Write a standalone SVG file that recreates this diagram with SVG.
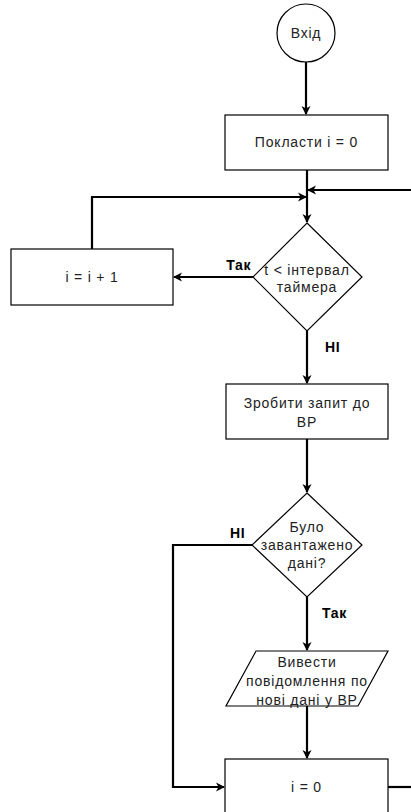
<svg xmlns="http://www.w3.org/2000/svg" width="411" height="812" viewBox="0 0 411 812">
<style>
.shape{fill:#fff;stroke:#000;stroke-width:1.2}
.t{font-family:"Liberation Sans",Arial,sans-serif;font-size:14px;fill:#222;text-anchor:middle;letter-spacing:0.8px}
.lbl{font-family:"Liberation Sans",Arial,sans-serif;font-size:14px;font-weight:bold;fill:#000;letter-spacing:0.6px}
.c{fill:none;stroke:#000;stroke-width:2.2}
</style>
<defs>
<marker id="arr" markerWidth="10" markerHeight="10" refX="8" refY="5" orient="auto" markerUnits="userSpaceOnUse">
<path d="M0,0.5 L9,5 L0,9.5 L2.5,5 z" fill="#000"/>
</marker>
</defs>
<rect width="411" height="812" fill="#fff"/>
<g id="connectors">
<path class="c" d="M306,62 V114" marker-end="url(#arr)"/>
<path class="c" d="M307,170 V222" marker-end="url(#arr)"/>
<path class="c" d="M411,190 H308" marker-end="url(#arr)"/>
<path class="c" d="M92,249 V197 H306" marker-end="url(#arr)"/>
<path class="c" d="M253,277 H174" marker-end="url(#arr)"/>
<path class="c" d="M307,331 V383" marker-end="url(#arr)"/>
<path class="c" d="M307,439 V492" marker-end="url(#arr)"/>
<path class="c" d="M252,545 H173 V787 H224" marker-end="url(#arr)"/>
<path class="c" d="M307,597 V650" marker-end="url(#arr)"/>
<path class="c" d="M307,706 V758" marker-end="url(#arr)"/>
<path class="c" d="M388,787 H411"/>
</g>
<g id="start">
<circle class="shape" cx="306" cy="33" r="29"/>
<text class="t" x="306" y="38">Вхід</text>
</g>
<g id="init">
<rect class="shape" x="225" y="115" width="163" height="55"/>
<text class="t" x="306.5" y="147">Покласти і = 0</text>
</g>
<g id="inc">
<rect class="shape" x="11" y="249" width="162" height="56"/>
<text class="t" x="92" y="282">i = i + 1</text>
</g>
<g id="cond1">
<polygon class="shape" points="307,223 362,277 307,331 253,277"/>
<text class="t" x="307" y="275">t &lt; інтервал</text>
<text class="t" x="307" y="292">таймера</text>
</g>
<g id="request">
<rect class="shape" x="226" y="384" width="162" height="55"/>
<text class="t" x="307" y="408">Зробити запит до</text>
<text class="t" x="307" y="427">ВР</text>
</g>
<g id="cond2">
<polygon class="shape" points="307,493 362,545 307,597 252,545"/>
<text class="t" x="307" y="532">Було</text>
<text class="t" x="307" y="550">завантажено</text>
<text class="t" x="307" y="568">дані?</text>
</g>
<g id="output">
<polygon class="shape" points="256,651 388,651 358,706 226,706"/>
<text class="t" x="307" y="667">Вивести</text>
<text class="t" x="307" y="686">повідомлення по</text>
<text class="t" x="307" y="705">нові дані у ВР</text>
</g>
<g id="reset">
<rect class="shape" x="225" y="759" width="163" height="58"/>
<text class="t" x="306.5" y="792">i = 0</text>
</g>
<g id="labels">
<text class="lbl" x="251" y="270" text-anchor="end">Так</text>
<text class="lbl" x="325" y="352">НІ</text>
<text class="lbl" x="230" y="538">НІ</text>
<text class="lbl" x="322" y="618">Так</text>
</g>
</svg>
